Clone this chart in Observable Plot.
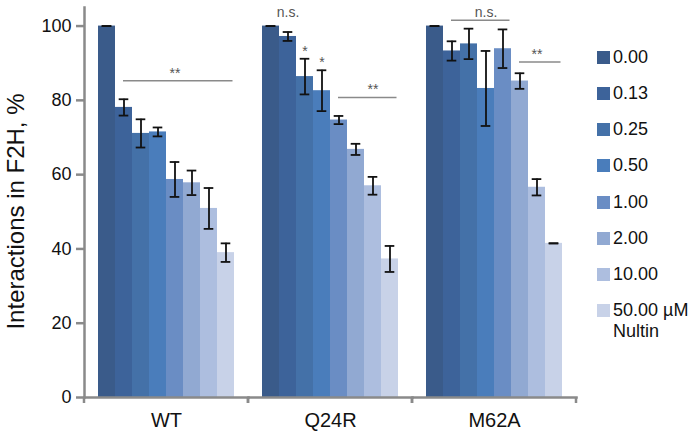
<!DOCTYPE html>
<html><head><meta charset="utf-8">
<script src="https://cdn.jsdelivr.net/npm/d3@7"></script>
<script src="https://cdn.jsdelivr.net/npm/@observablehq/plot@0.6"></script>
<style>
body{margin:0;background:#fff;font-family:"Liberation Sans",Arial,sans-serif;}
#wrap{position:relative;width:695px;height:443px;}
#legend{position:absolute;left:597px;top:46.8px;color:#111;}
.item{display:flex;align-items:flex-start;height:36.2px;line-height:21px;font-size:18px;}
.sw{width:13px;height:13px;margin-top:4px;margin-right:3px;flex:none;}
</style></head><body>
<div id="wrap"><div id="chart"></div><div id="legend"></div></div>
<script>
const groups = ["WT", "Q24R", "M62A"];
const concentrations = ["0.00", "0.13", "0.25", "0.50", "1.00", "2.00", "10.00", "50.00"];
const unitLabel = "µM";
const drugName = "Nultin";
const colors = ["#3a5b8a", "#3d639a", "#4471a8", "#4a7dbb", "#6a8dc4", "#91a9d2", "#adbedf", "#c8d2e8"];

const wtMean   = [100, 78.1, 71.1, 71.5, 58.7, 57.8, 50.9, 39.0];
const wtErr    = [0, 2.2, 3.8, 1.2, 4.7, 3.3, 5.5, 2.5];
const q24rMean = [100, 97.2, 86.4, 82.6, 74.7, 66.8, 57.0, 37.3];
const q24rErr  = [0, 1.2, 4.8, 5.5, 1.1, 1.5, 2.4, 3.5];
const m62aMean = [100, 93.3, 95.2, 83.2, 93.9, 85.2, 56.6, 41.5];
const m62aErr  = [0, 2.6, 4.1, 10.1, 5.2, 2.1, 2.2, 0];

const yTicks = [0, 20, 40, 60, 80, 100];
const yLabel = "Interactions in F2H, %";

// significance brackets and labels
const brackets = [
  {group: "WT", from: "0.13", to: "50.00", y: 85.3},
  {group: "Q24R", from: "1.00", to: "50.00", y: 80.8},
  {group: "M62A", from: "0.13", to: "1.00", y: 101.6},
  {group: "M62A", from: "2.00", to: "50.00", y: 90.3}
];
const bracketLabels = [
  {group: "WT", at: "1.00", y: 85.3, text: "**"},
  {group: "Q24R", at: "10.00", y: 80.8, text: "**"},
  {group: "M62A", at: "0.50", y: 101.6, text: "n.s."},
  {group: "M62A", at: "10.00", y: 90.3, text: "**"},
  {group: "Q24R", at: "0.13", y: 101.6, text: "n.s."}
];
const stars = [
  {group: "Q24R", conc: "0.25", text: "*"},
  {group: "Q24R", conc: "0.50", text: "*"}
];

const means = [wtMean, q24rMean, m62aMean];
const errs = [wtErr, q24rErr, m62aErr];
const rows = groups.flatMap((g, gi) => concentrations.map((c, ci) => ({
  group: g, conc: c, mean: means[gi][ci], err: errs[gi][ci]
})));
const rowOf = (g, c) => rows.find(r => r.group === g && r.conc === c);
const starRows = stars.map(s => ({...s, y: rowOf(s.group, s.conc).mean + rowOf(s.group, s.conc).err}));

const axisGray = "#8a8a8a";

const boundaryTicks = (index, scales, values, dims) => {
  const g = d3.create("svg:g");
  const y0 = dims.height - dims.marginBottom;
  for (const x of [dims.marginLeft, dims.width - dims.marginRight]) {
    g.append("line").attr("x1", x).attr("x2", x).attr("y1", y0).attr("y2", y0 + 6)
      .attr("stroke", axisGray).attr("stroke-width", 2.5);
  }
  return g.node();
};

const chart = Plot.plot({
  width: 695,
  height: 443,
  marginLeft: 83,
  marginRight: 119,
  marginTop: 7,
  marginBottom: 46,
  style: {fontFamily: "Liberation Sans, Arial, sans-serif", fontSize: "18px", color: "#111", background: "white"},
  fx: {domain: groups, padding: 0, axis: null, label: null},
  x: {domain: concentrations, paddingInner: 0, paddingOuter: 0.75, axis: null},
  y: {domain: [0, 105], axis: null},
  color: {domain: concentrations, range: colors},
  marks: [
    Plot.barY(rows, {fx: "group", x: "conc", y: "mean", fill: "conc"}),
    Plot.ruleX(rows, {fx: "group", x: "conc", y1: d => d.mean - d.err, y2: d => d.mean + d.err, stroke: "#111", strokeWidth: 1.8}),
    Plot.tickY(rows, {fx: "group", x: "conc", y: d => d.mean + d.err, insetLeft: 3.7, insetRight: 3.7, stroke: "#111", strokeWidth: 1.8}),
    Plot.tickY(rows, {fx: "group", x: "conc", y: d => d.mean - d.err, insetLeft: 3.7, insetRight: 3.7, stroke: "#111", strokeWidth: 1.8}),
    Plot.ruleY(brackets, {fx: "group", x1: "from", x2: "to", y: "y", insetLeft: 8, insetRight: 1.5, stroke: axisGray, strokeWidth: 1.5}),
    Plot.text(bracketLabels, {fx: "group", x: "at", y: "y", text: "text", lineAnchor: "bottom", dy: -3, fontSize: 14, fill: "#555"}),
    Plot.text(starRows, {fx: "group", x: "conc", y: "y", text: "text", lineAnchor: "bottom", dy: -3, fontSize: 14, fill: "#555"}),
    Plot.frame({anchor: "bottom", stroke: axisGray, strokeWidth: 2.5}),
    Plot.frame({anchor: "left", facetAnchor: "left", stroke: axisGray, strokeWidth: 2.5}),
    boundaryTicks,
    Plot.axisY({ticks: yTicks, tickSize: 8, tickPadding: 5, stroke: axisGray, strokeWidth: 2.5, fill: "#111", fontSize: 18, label: null}),
    Plot.axisFx({anchor: "bottom", tickSize: 0, tickPadding: 15, fontSize: 20, fill: "#111", label: null}),
    Plot.text([yLabel], {frameAnchor: "left", facetAnchor: "left", textAnchor: "middle", dx: -61, dy: 9, rotate: -90, lineAnchor: "bottom", fontSize: 24, fill: "#111"})
  ]
});
document.getElementById("chart").appendChild(chart);

const legend = d3.select("#legend");
concentrations.forEach((c, i) => {
  const item = legend.append("div").attr("class", "item");
  item.append("span").attr("class", "sw").style("background", colors[i]);
  const label = item.append("span");
  if (i === concentrations.length - 1) {
    label.html(`${c} ${unitLabel}<br>${drugName}`);
  } else {
    label.text(c);
  }
});
</script>
</body></html>
